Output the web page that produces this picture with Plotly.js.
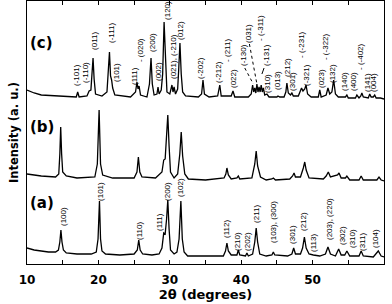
<!DOCTYPE html>
<html><head><meta charset="utf-8">
<script src="https://cdn.plot.ly/plotly-3.0.1.min.js"></script>
<style>html,body{margin:0;padding:0;background:#fff}</style>
</head><body><div id="chart" style="width:392px;height:304px"></div>
<script>
// Pattern (a)
const twoTheta_a = [10.0,11.0,12.0,13.0,14.0,14.4,14.6,14.75,14.9,15.1,15.5,17.0,19.0,19.7,19.95,20.15,20.3,20.5,21.0,23.0,25.0,25.45,25.65,25.85,26.2,27.5,28.5,28.9,29.15,29.35,29.55,29.72,29.9,30.1,30.6,31.0,31.3,31.55,31.75,32.0,32.5,35.0,37.5,37.8,38.0,38.2,38.6,39.4,39.6,39.8,40.6,40.8,41.0,41.6,41.9,42.1,42.3,42.6,43.5,44.3,44.5,44.7,46.5,47.1,47.35,47.6,48.3,48.6,48.85,49.1,49.5,50.1,51.0,51.8,52.15,52.5,53.2,53.65,54.0,54.5,54.8,55.2,56.5,56.8,57.1,58.5,59.2,59.6,60.0];
const intensity_a = [16,14,13,12,12,14,22,34,22,14,11,10,10,12,25,63,25,13,10,9,10,14,24,14,10,9,10,16,31,30,45,64,35,14,10,12,25,63,25,12,8,8,8,13,21,13,9,9,14,9,8,11,8,10,22,36,22,10,8,9,12,9,8,10,16,10,10,16,27,16,10,9,8,10,17,10,8,15,9,9,13,8,8,13,8,7,13,8,7];
// Pattern (b)
const twoTheta_b = [10.0,12.0,14.0,14.45,14.6,14.72,14.85,15.0,15.5,17.0,19.5,19.85,20.1,20.3,20.6,22.0,25.0,25.4,25.6,25.8,26.1,28.0,28.9,29.15,29.35,29.55,29.72,29.9,30.1,30.6,31.1,31.4,31.6,31.8,32.1,32.6,35.0,37.6,37.85,38.0,38.2,38.6,39.4,39.6,39.8,41.5,41.9,42.1,42.3,42.7,43.5,44.3,44.5,44.8,46.8,47.2,47.4,47.6,48.3,48.7,48.9,49.1,49.5,51.5,51.9,52.2,52.5,53.5,53.7,54.0,54.6,54.8,55.2,56.5,56.8,57.1,59.0,59.3,59.6,60.0];
const intensity_b = [90,88,87,90,110,137,110,92,88,86,87,100,154,100,89,86,86,92,107,92,87,86,92,104,105,125,149,118,92,86,90,110,132,108,90,85,84,86,90,96,89,85,86,88,85,86,100,113,98,87,84,85,86,84,85,88,91,87,87,96,102,94,86,85,88,92,87,89,91,86,86,88,84,84,88,84,84,87,84,83];
// Pattern (c)
const twoTheta_c = [10.0,11.0,12.0,14.0,16.0,16.9,17.1,17.3,18.4,18.7,18.95,19.1,19.25,19.4,19.6,20.5,21.2,21.4,21.55,21.7,21.85,22.0,22.3,24.5,25.2,25.4,25.55,25.7,25.9,26.8,27.15,27.37,27.55,27.8,28.2,28.35,28.5,28.8,29.0,29.2,29.4,29.6,30.0,30.3,30.45,30.6,30.8,31.1,31.25,31.42,31.6,31.8,32.2,34.0,34.45,34.65,34.85,35.5,36.7,37.0,37.2,38.6,38.85,39.1,41.0,41.4,41.6,41.75,41.9,42.05,42.2,42.35,42.5,42.65,42.8,42.95,43.1,43.3,43.6,43.9,45.0,45.15,45.4,46.0,46.25,46.4,46.6,46.9,47.1,47.3,48.0,48.3,48.45,48.65,48.9,49.08,49.3,49.8,50.8,51.0,51.2,51.9,52.15,52.4,52.7,52.95,53.2,53.6,54.6,54.8,55.0,56.0,56.2,56.5,56.75,56.9,57.1,57.8,58.0,58.2,58.5,58.7,58.9,59.5,60.0];
const intensity_c = [174,171,169,168,167,167,172,167,168,173,174,190,206,185,170,168,172,195,212,188,184,176,169,167,172,182,175,178,169,167,180,206,180,169,170,177,170,174,190,242,195,172,170,179,172,177,170,175,195,221,190,172,168,167,170,184,170,167,168,179,168,168,173,167,167,170,179,172,176,171,180,172,177,172,179,172,176,169,170,167,167,168,167,167,172,181,171,169,171,168,168,173,176,173,175,179,170,167,167,174,167,169,176,170,172,184,170,167,167,169,166,166,169,166,168,171,167,166,170,167,167,169,166,166,165];

const panelNames = ["(a)","(b)","(c)"];
const panelLevel = [61,137,221];

const labels_a = ["(100)","(101)","(110)","(111)","(200)","(102)","(112)","(210)","(202)","(211)","(103), (300)","(301)","(212)","(113)","(203), (220)","(302)","(310)","(311)","(104)"];
const labels_a_x = [15.04,20.22,25.69,28.49,29.6,31.43,37.87,39.41,40.81,42.07,44.45,47.11,48.66,50.06,52.3,54.12,55.52,56.92,58.74];
const labels_a_y = [48,73,33,42,73,76,35,23,23,50,42,30,42,21,45,28,25,22,25];

const labels_c = ["(-101)","(-110)","(011)","(-111)","(101)","(111)","- (020)","(200)","(002)","(120)","(021), (-210)","(012)","(-202)","(-212)","- (211)","(022)","(-130)","(031)","- (-311)","(-131)","(310)","(013)","(212)","(301)","- (-231)","(-321)","(023)","- (-322)","(132)","(140)","(400)","- (-402)","(141)","(004)"];
const labels_c_x = [16.86,18.12,19.38,21.76,22.46,24.99,25.83,27.5,28.35,29.6,30.45,31.43,34.23,36.75,38.0,38.85,40.25,40.95,42.63,43.47,43.6,45.0,46.4,47.1,48.37,49.08,51.18,51.74,52.72,54.4,55.66,56.64,57.62,58.46];
const labels_c_y = [189,192,223,231,192,188,214,222,192,254,207,233,196,192,214,186,209,231,236,209,181,184,197,183,220,189,185,217,190,182,182,207,181,181];

const line = {color:'#000', width:1.3};
const traces = [
  {x:twoTheta_a, y:intensity_a, mode:'lines', line:line, hoverinfo:'skip'},
  {x:twoTheta_b, y:intensity_b, mode:'lines', line:line, hoverinfo:'skip'},
  {x:twoTheta_c, y:intensity_c, mode:'lines', line:line, hoverinfo:'skip'}
];

const ann = [];
const lblFont = {family:'Liberation Sans, Arial, sans-serif', size:8, color:'#000'};
function addLabels(t, xs, ys){
  t.forEach((s,i)=>ann.push({text:s, x:xs[i], y:ys[i], xref:'x', yref:'y', showarrow:false, textangle:-90, font:lblFont, xanchor:'center', yanchor:'middle'}));
}
addLabels(labels_a, labels_a_x, labels_a_y);
addLabels(labels_c, labels_c_x, labels_c_y);
panelNames.forEach((s,i)=>ann.push({text:s, x:10.2, y:panelLevel[i], xref:'x', yref:'y', showarrow:false, xanchor:'left', yanchor:'middle', font:{family:'DejaVu Sans, sans-serif', size:15, color:'#000', weight:'bold'}}));

const shapes = [
  {type:'line', xref:'x', yref:'y', x0:40.5, y0:196, x1:41.7, y1:180, line:{color:'#000', width:1, dash:'dot'}},
  {type:'line', xref:'x', yref:'y', x0:41.15, y0:220, x1:42.2, y1:180, line:{color:'#000', width:1, dash:'dot'}},
  {type:'line', xref:'x', yref:'y', x0:43.2, y0:196, x1:42.9, y1:190, line:{color:'#000', width:1}}
];

const layout = {
  width:392, height:304,
  margin:{l:27, r:8, t:1, b:40},
  paper_bgcolor:'#fff', plot_bgcolor:'#fff',
  showlegend:false,
  font:{family:'DejaVu Sans, sans-serif', color:'#000'},
  xaxis:{range:[10,60], tickvals:[10,15,20,25,30,35,40,45,50,55,60], ticktext:['10','','20','','30','','40','','50','','60'],
    ticks:'inside', ticklen:4, tickcolor:'#000', showline:true, linecolor:'#000', linewidth:1, mirror:'ticks', showgrid:false, zeroline:false,
    ticklabelstandoff:5,
    tickfont:{family:'DejaVu Sans, sans-serif', size:12, weight:'bold', color:'#000'},
    title:{text:'2θ (degrees)', font:{family:'DejaVu Sans, sans-serif', size:13, weight:'bold', color:'#000'}, standoff:3}},
  yaxis:{range:[0,263], showticklabels:false, ticks:'', showline:true, linecolor:'#000', linewidth:1, mirror:true, showgrid:false, zeroline:false,
    title:{text:'Intensity (a. u.)', font:{family:'DejaVu Sans, sans-serif', size:11.5, weight:'bold', color:'#000'}, standoff:4}},
  annotations:ann, shapes:shapes
};
Plotly.newPlot('chart', traces, layout, {staticPlot:true, displayModeBar:false});
</script></body></html>
